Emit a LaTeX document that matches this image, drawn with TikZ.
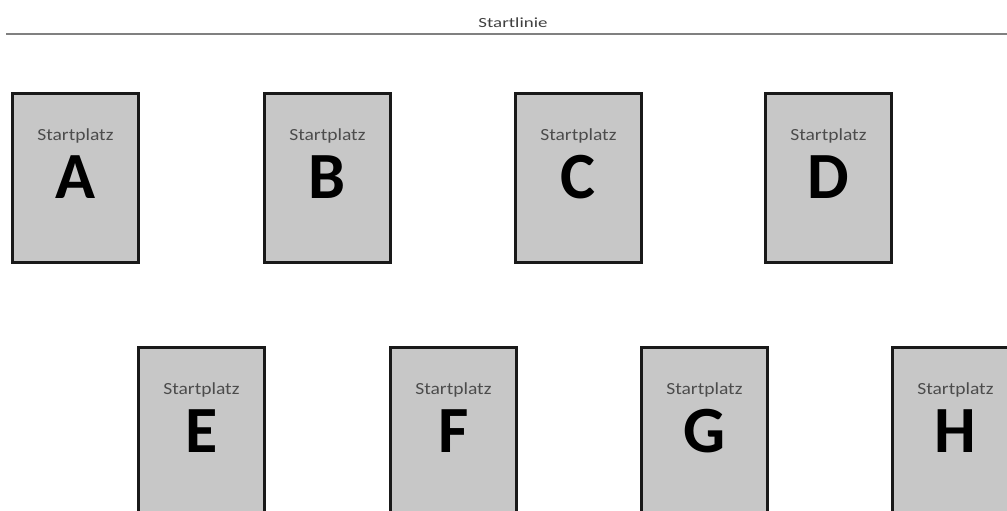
\documentclass[tikz,border=0pt]{standalone}
\usepackage{fontspec}
\setmainfont{Carlito}
\begin{document}
\begin{tikzpicture}[x=1pt,y=-1pt,
  platz/.style={draw=black!90,line width=2.8pt,fill=black!22,minimum width=126pt,minimum height=169pt,inner sep=0pt,anchor=north west},
  lbl/.style={font=\fontsize{17}{17}\selectfont,text=black!70,xscale=1.15,anchor=base,inner sep=0pt},
  big/.style={font=\fontsize{66}{66}\selectfont\bfseries,text=black,anchor=base,inner sep=0pt},
  title/.style={font=\fontsize{14}{14}\selectfont,text=black!75,xscale=1.35,anchor=base,inner sep=0pt}]
\useasboundingbox (0,0) rectangle (1007,511);
\fill[white] (0,0) rectangle (1007,511);
\node[title] (title) at (513,28) {Startlinie};
\coordinate (l0) at (6,34);
\coordinate (l1) at (1007,34);
\draw[black!50,line width=2pt] (l0) -- (l1);
\foreach \n/\x/\y in {A/11/92,B/263/92,C/514/92,D/764/92,E/137/346,F/389/346,G/640/346,H/891/346}{
  \node[platz] (\n) at (\x,\y) {};
  \node[lbl] (s\n) at ([yshift=-48pt]\n.north) {Startplatz};
  \node[big] (b\n) at ([yshift=-106pt]\n.north) {\n};
}
\end{tikzpicture}
\end{document}
